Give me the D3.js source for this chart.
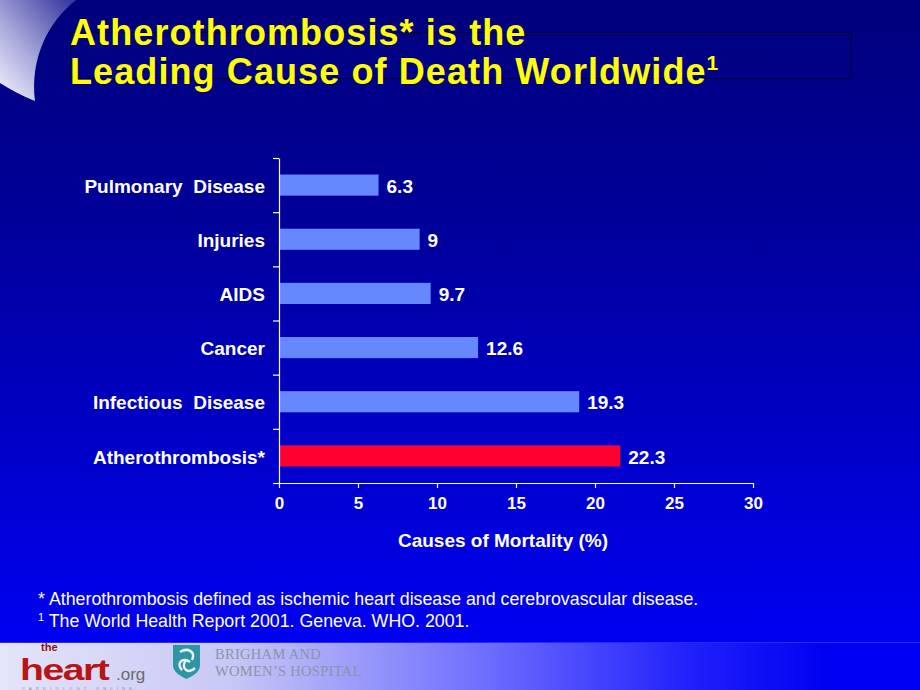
<!DOCTYPE html>
<html>
<head>
<meta charset="utf-8">
<script src="https://cdn.jsdelivr.net/npm/d3@7"></script>
<style>
  html, body { margin: 0; padding: 0; background: #000080; }
  svg { display: block; }
</style>
</head>
<body>
<script>
// categories top to bottom, bar lengths as drawn, and the printed value labels
const causes = ["Pulmonary  Disease", "Injuries", "AIDS", "Cancer", "Infectious  Disease", "Atherothrombosis*"];
const barValues = [6.3, 8.9, 9.6, 12.6, 19.0, 21.6];
const valueLabels = ["6.3", "9", "9.7", "12.6", "19.3", "22.3"];
const highlight = ["Atherothrombosis*"];
const xTicks = [0, 5, 10, 15, 20, 25, 30];

const width = 920, height = 690;
const font = "'Liberation Sans', Arial, sans-serif";

const svg = d3.select("body").append("svg")
    .attr("width", width)
    .attr("height", height)
    .attr("font-family", font);

const defs = svg.append("defs");

// background: navy at top to bright blue at bottom
const bg = defs.append("linearGradient").attr("id", "bg")
    .attr("x1", 0).attr("y1", 0).attr("x2", 0).attr("y2", 1);
bg.append("stop").attr("offset", "0%").attr("stop-color", "#00007c");
bg.append("stop").attr("offset", "35%").attr("stop-color", "#00009a");
bg.append("stop").attr("offset", "100%").attr("stop-color", "#0000f2");

// bottom strip: lavender on the left fading into blue
const strip = defs.append("linearGradient").attr("id", "strip")
    .attr("x1", 0).attr("y1", 0).attr("x2", 1).attr("y2", 0);
strip.append("stop").attr("offset", "0%").attr("stop-color", "#e4e4fa");
strip.append("stop").attr("offset", "25%").attr("stop-color", "#c8c8f6");
strip.append("stop").attr("offset", "52%").attr("stop-color", "#7070ff");
strip.append("stop").attr("offset", "75%").attr("stop-color", "#2020fb");
strip.append("stop").attr("offset", "90%").attr("stop-color", "#0000f2");

// swoosh top-left
const sw = defs.append("linearGradient").attr("id", "swoosh")
    .attr("x1", 0).attr("y1", 1).attr("x2", 0.9).attr("y2", 0);
sw.append("stop").attr("offset", "0%").attr("stop-color", "#f4f4ff");
sw.append("stop").attr("offset", "45%").attr("stop-color", "#a8a8dc");
sw.append("stop").attr("offset", "100%").attr("stop-color", "#3a3aa0");

svg.append("rect").attr("width", width).attr("height", 642).attr("fill", "url(#bg)");

svg.append("path")
    .attr("d", "M0,0 L76,0 C48,22 30,58 35,101 C22,96 10,89 0,83 Z")
    .attr("fill", "url(#swoosh)");

// title box and title
svg.append("rect")
    .attr("x", 70.5).attr("y", 32.5).attr("width", 781).attr("height", 46)
    .attr("fill", "none").attr("stroke", "#000030").attr("stroke-width", 1);

const title = svg.append("g")
    .attr("fill", "#ffff00")
    .attr("font-weight", "bold")
    .attr("font-size", 36)
    .attr("letter-spacing", 1.1);
title.append("text").attr("x", 70).attr("y", 45).text("Atherothrombosis* is the");
const t2 = title.append("text").attr("x", 70).attr("y", 84);
t2.append("tspan").text("Leading Cause of Death Worldwide");
t2.append("tspan").attr("font-size", 21).attr("dy", -14).text("1");

// chart
const x0 = 279, x1 = 753, yTop = 158, yBot = 483;

const x = d3.scaleLinear().domain([0, 30]).range([x0, x1]);
const y = d3.scaleBand().domain(causes).range([yTop, yBot]).paddingInner(0.61).paddingOuter(0.305);
const yEdges = d3.scaleLinear().domain([0, causes.length]).range([yTop, yBot]);

const chart = svg.append("g");

chart.selectAll("rect.bar")
    .data(causes)
    .join("rect")
    .attr("class", "bar")
    .attr("x", x(0))
    .attr("y", d => y(d))
    .attr("width", (d, i) => x(barValues[i]) - x(0))
    .attr("height", y.bandwidth())
    .attr("fill", d => highlight.includes(d) ? "#ff0030" : "#6688ff");

chart.selectAll("text.val")
    .data(causes)
    .join("text")
    .attr("class", "val")
    .attr("x", (d, i) => x(barValues[i]) + 8)
    .attr("y", d => y(d) + y.bandwidth() / 2 + 1)
    .attr("dy", "0.35em")
    .attr("fill", "#ffffff")
    .attr("font-weight", "bold")
    .attr("font-size", 19)
    .text((d, i) => valueLabels[i]);

chart.selectAll("text.cat")
    .data(causes)
    .join("text")
    .attr("class", "cat")
    .attr("x", 265)
    .attr("y", d => y(d) + y.bandwidth() / 2 + 1)
    .attr("dy", "0.35em")
    .attr("text-anchor", "end")
    .attr("fill", "#ffffff")
    .attr("font-weight", "bold")
    .attr("font-size", 19)
    .style("white-space", "pre")
    .text(d => d);

// y axis with ticks at band edges
const yAxis = chart.append("g")
    .attr("transform", `translate(${x0},0)`)
    .call(d3.axisLeft(yEdges).ticks(causes.length).tickFormat("").tickSize(6).tickSizeOuter(0));

// x axis
const xAxis = chart.append("g")
    .attr("transform", `translate(0,${yBot})`)
    .call(d3.axisBottom(x).tickValues(xTicks).tickSize(5).tickSizeOuter(0).tickPadding(9));

[yAxis, xAxis].forEach(a => {
  a.select(".domain").attr("stroke", "#ffffff").attr("stroke-width", 1.2);
  a.selectAll(".tick line").attr("stroke", "#ffffff").attr("stroke-width", 1.2);
});
xAxis.selectAll(".tick text")
    .attr("fill", "#ffffff")
    .attr("font-family", font)
    .attr("font-weight", "bold")
    .attr("font-size", 17);

chart.append("text")
    .attr("x", 503).attr("y", 547)
    .attr("text-anchor", "middle")
    .attr("fill", "#ffffff")
    .attr("font-weight", "bold")
    .attr("font-size", 19)
    .text("Causes of Mortality (%)");

// footnotes
const notes = svg.append("g").attr("fill", "#ffffff").attr("font-size", 17.8);
notes.append("text").attr("x", 38).attr("y", 605)
    .text("* Atherothrombosis defined as ischemic heart disease and cerebrovascular disease.");
const n2 = notes.append("text").attr("x", 38).attr("y", 627);
n2.append("tspan").attr("font-size", 11).attr("dy", -6).text("1");
n2.append("tspan").attr("dy", 6).text(" The World Health Report 2001. Geneva. WHO. 2001.");

// bottom strip with logos
svg.append("rect").attr("y", 642).attr("width", width).attr("height", 48).attr("fill", "url(#strip)");
svg.append("line").attr("x1", 0).attr("x2", width).attr("y1", 642.5).attr("y2", 642.5)
    .attr("stroke", "#2a2af0").attr("stroke-width", 1);

const logo1 = svg.append("g").attr("font-family", font).attr("font-weight", "bold");
logo1.append("text").attr("x", 41).attr("y", 651).attr("font-size", 11).attr("fill", "#8a1010").text("the");
logo1.append("text").attr("transform", "translate(20,680) scale(1.35,1)")
    .attr("font-size", 29).attr("fill", "#b81414").attr("letter-spacing", -1.1).text("heart");
logo1.append("text").attr("x", 116).attr("y", 680).attr("font-size", 17).attr("font-weight", "normal")
    .attr("fill", "#6a6a6a").text(".org");
logo1.append("text").attr("x", 22).attr("y", 690).attr("font-size", 4).attr("font-weight", "normal")
    .attr("fill", "#8888aa").attr("letter-spacing", 4.2).text("CARDIOLOGY ONLINE");

// shield
svg.append("path")
    .attr("d", "M173,645 L200,645 L200,665 C200,672 193,676 186.5,679 C180,676 173,672 173,665 Z")
    .attr("fill", "#2f94a4");
svg.append("path")
    .attr("d", "M180,652 C188,647 196,652 192,660 M182,670 C176,664 182,656 190,662 M186,660 C180,668 188,675 195,668")
    .attr("fill", "none").attr("stroke", "#e8f4f6").attr("stroke-width", 2.5);

const logo2 = svg.append("g")
    .attr("font-family", "'Liberation Serif', 'DejaVu Serif', serif")
    .attr("font-size", 14.5)
    .attr("letter-spacing", 0.3)
    .attr("fill", "#8a94a8");
logo2.append("text").attr("x", 215).attr("y", 659).text("BRIGHAM AND");
logo2.append("text").attr("x", 215).attr("y", 675.5).text("WOMEN’S HOSPITAL");
</script>
</body>
</html>
